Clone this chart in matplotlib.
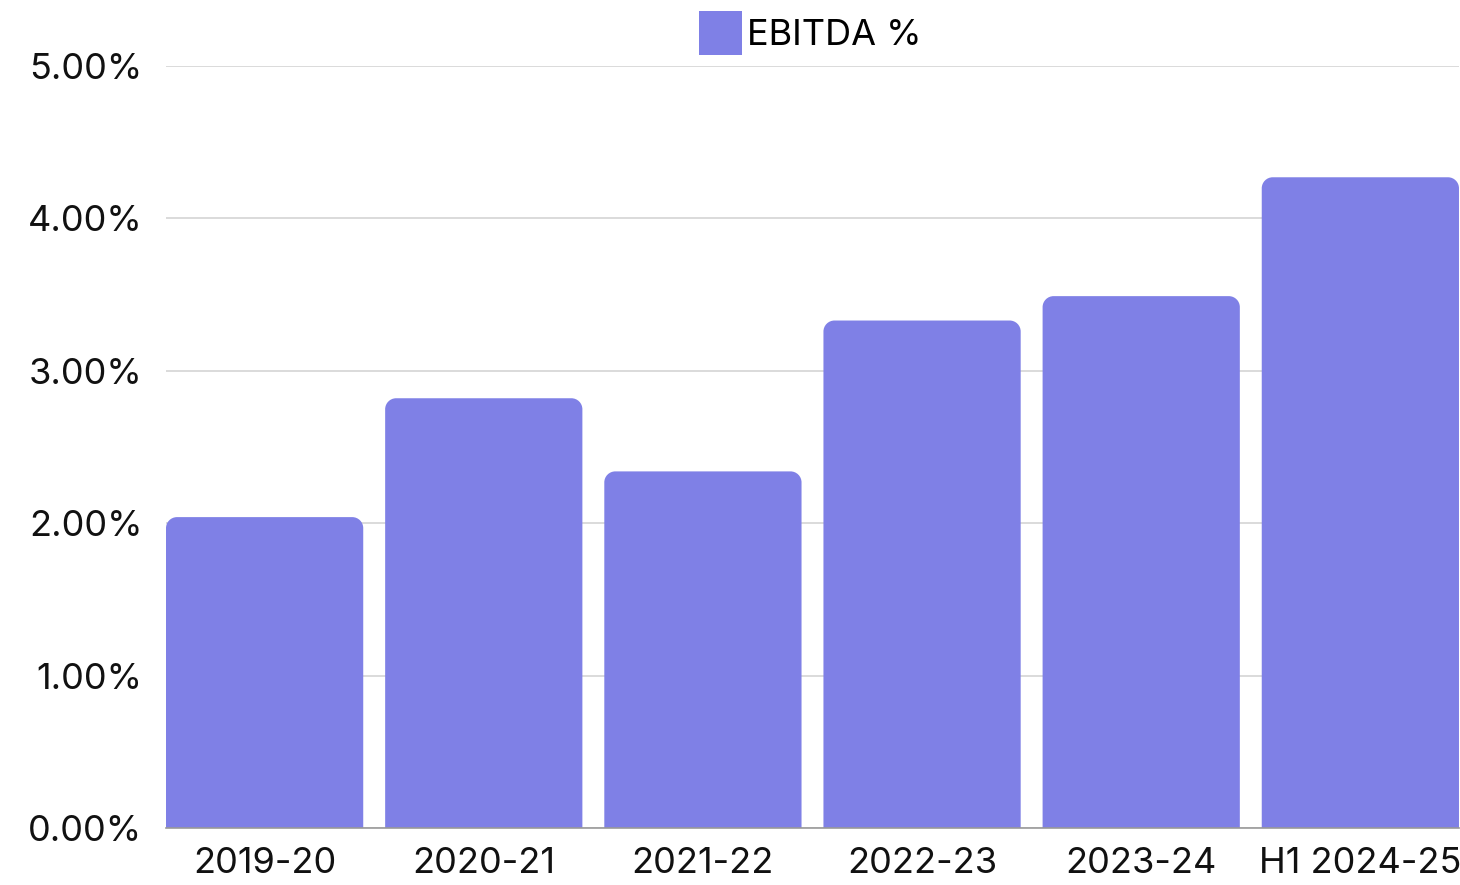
import matplotlib
matplotlib.use("Agg")
import matplotlib.pyplot as plt
from matplotlib.path import Path
from matplotlib.patches import PathPatch, Patch
from matplotlib.ticker import FuncFormatter

categories = ["2019-20", "2020-21", "2021-22", "2022-23", "2023-24", "H1 2024-25"]
ebitda_pct = [2.04, 2.82, 2.34, 3.33, 3.49, 4.27]
series_name = "EBITDA %"
yticks = [0, 1, 2, 3, 4, 5]

plt.rcParams['font.family'] = ['Inter', 'DejaVu Sans']
color = "#7F80E6"

fig = plt.figure(figsize=(14.6, 8.85), dpi=100)
ax = fig.add_axes([0.1137, 0.0644, 0.8856, 0.861])
x = list(range(len(categories)))
bars = ax.bar(x, ebitda_pct, width=0.9, color=color, zorder=2)
ax.set_xlim(-0.45, len(categories) - 0.55)
ax.set_ylim(0, 5)
ax.set_yticks(yticks)
ax.yaxis.set_major_formatter(FuncFormatter(lambda v, p: f"{v:.2f}%"))
ax.set_xticks(x)
ax.set_xticklabels(categories)
ax.tick_params(axis='both', length=0, labelsize=26, colors='#111111')
ax.tick_params(axis='y', pad=17)
ax.tick_params(axis='x', pad=13.5)
ax.grid(axis='y', color='#d4d4d4', linewidth=1.2, zorder=0)
for s in ['top', 'right', 'left']:
    ax.spines[s].set_visible(False)
ax.spines['bottom'].set_color('#999999')
ax.spines['bottom'].set_linewidth(1.2)
ax.spines['bottom'].set_zorder(3)

# rounded top corners
fig.canvas.draw()
bbox = ax.get_window_extent()
xl = ax.get_xlim(); yl = ax.get_ylim()
px_x = bbox.width / (xl[1] - xl[0])
px_y = bbox.height / (yl[1] - yl[0])
r_px = 11
rx = r_px / px_x
ry = r_px / px_y
k = 0.5523
for b in bars:
    x0 = b.get_x(); w = b.get_width(); h = b.get_height()
    x1 = x0 + w
    verts = [
        (x0, 0), (x0, h - ry),
        (x0, h - ry + k * ry), (x0 + rx - k * rx, h), (x0 + rx, h),
        (x1 - rx, h),
        (x1 - rx + k * rx, h), (x1, h - ry + k * ry), (x1, h - ry),
        (x1, 0), (x0, 0),
    ]
    codes = [Path.MOVETO, Path.LINETO,
             Path.CURVE4, Path.CURVE4, Path.CURVE4,
             Path.LINETO,
             Path.CURVE4, Path.CURVE4, Path.CURVE4,
             Path.LINETO, Path.CLOSEPOLY]
    ax.add_patch(PathPatch(Path(verts, codes), facecolor=color, edgecolor='none', zorder=2))
    b.set_visible(False)

leg = fig.legend(handles=[Patch(facecolor=color, label=series_name)],
                 loc='center', bbox_to_anchor=(0.555, 0.963), frameon=False,
                 fontsize=26, handlelength=1.2, handleheight=1.5, handletextpad=0.15)

fig.savefig("out.png", dpi=100, facecolor='white')
